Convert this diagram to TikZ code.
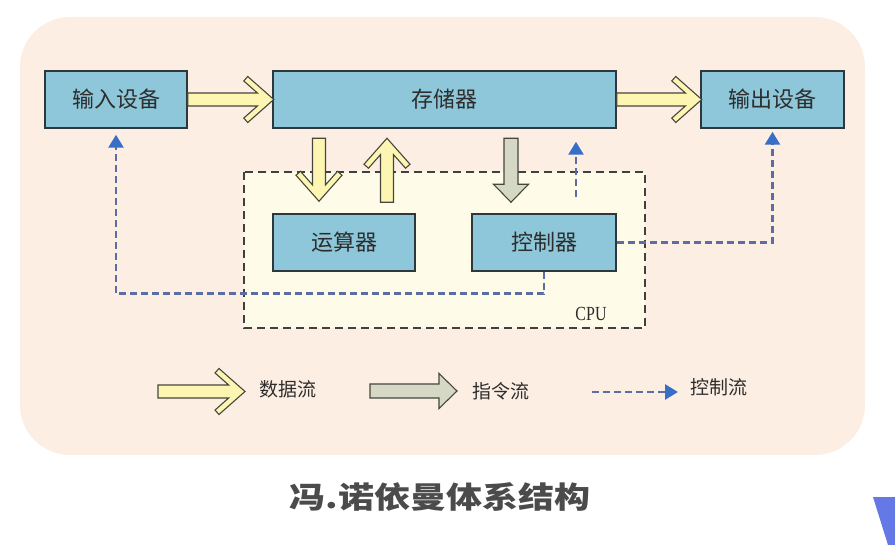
\documentclass[tikz,border=0pt]{standalone}
\usepackage{fontspec}
\setmainfont{Liberation Serif}
\newfontfamily\cjk{Noto Sans CJK SC}
\usetikzlibrary{arrows.meta,calc}
\definecolor{bgc}{RGB}{253,238,227}
\definecolor{cpufill}{RGB}{254,251,233}
\definecolor{boxfill}{RGB}{141,199,217}
\definecolor{boxline}{RGB}{45,55,60}
\definecolor{yfill}{RGB}{252,246,178}
\definecolor{gfill}{RGB}{214,216,198}
\definecolor{arrline}{RGB}{70,70,60}
\definecolor{ctlline}{RGB}{90,110,165}
\definecolor{ctltip}{RGB}{55,110,200}
\definecolor{txt}{RGB}{45,45,45}
\definecolor{titlec}{RGB}{75,75,75}
\definecolor{cornerblue}{RGB}{100,120,230}
\tikzset{
  box/.style={draw=boxline, line width=1.5pt, fill=boxfill, minimum height=57pt,
    inner sep=0pt, text=txt, font=\cjk\fontsize{22}{22}\selectfont},
  arrstroke/.style={draw=arrline, line width=1.1pt, line join=miter},
  ctl/.style={draw=ctlline, line width=2.6pt, dash pattern=on 7pt off 4pt,
    -{Triangle[length=13pt,width=15pt,color=ctltip]}},
  legtext/.style={text=txt, font=\cjk\fontsize{19}{19}\selectfont, inner sep=0pt},
  pics/yarrow/.style={code={
    \draw[arrstroke, fill=yfill] (0,6.5) -- ({#1-16.35},6.5) -- ({#1-29.96},18.54)
      -- ({#1-26},23) -- (#1,0) -- ({#1-26},-23) -- ({#1-29.96},-18.54)
      -- ({#1-16.35},-6.5) -- (0,-6.5) -- cycle;
  }},
  pics/garrow/.style={code={
    \draw[arrstroke, fill=gfill] (0,7) -- ({#1-18},7) -- ({#1-18},17.5) -- (#1,0)
      -- ({#1-18},-17.5) -- ({#1-18},-7) -- (0,-7) -- cycle;
  }},
}
\begin{document}
\begin{tikzpicture}[x=1pt,y=-1pt]
\useasboundingbox (0,0) rectangle (895,545);
% background panel
\fill[bgc, rounded corners=50pt] (20,17) rectangle (865,455);
\fill[cornerblue] (873,497) -- (895,497) -- (895,545) -- (888,545) -- cycle;
% CPU region
\draw[draw=black!75, fill=cpufill, line width=1.1pt, dash pattern=on 8pt off 5pt] (244,172) rectangle (645,328);
\node[text=txt, font=\fontsize{20}{20}\selectfont, inner sep=0pt] (cpu) at (591,314) {\scalebox{0.8}[1]{CPU}};
% boxes
\node[box, minimum width=142pt] (in) at (116,99.5) {输入设备};
\node[box, minimum width=343pt] (mem) at (444.5,99.5) {存储器};
\node[box, minimum width=143pt] (out) at (772.5,99.5) {输出设备};
\node[box, minimum width=142pt] (alu) at (344,242.5) {运算器};
\node[box, minimum width=144pt] (ctrl) at (544,242.5) {控制器};
% data flow arrows
\pic at (in.east) {yarrow=86};
\pic at (mem.east) {yarrow=85};
\pic[rotate=-90] at ($(alu.north)+(-25,-75)$) {yarrow=63};
\pic[rotate=90] at ($(alu.north)+(43,-11)$) {yarrow=64};
% instruction flow
\pic[rotate=-90] at ($(ctrl.north)+(-33,-75)$) {garrow=64};
% control flow
\draw[ctl, shorten >=6pt] (ctrl.south) -- ++(0,22) -| (in.south);
\draw[ctl, shorten >=3pt] (ctrl.east) -| (out.south);
\coordinate (cu1) at ($(ctrl.north)+(32,-16)$);
\coordinate (cu2) at ($(mem.south)+(131.5,13)$);
\draw[ctl] (cu1) -- (cu2);
% legend
\pic at (158,391.5) {yarrow=87};
\node[legtext] (l1) at (288,389) {数据流};
\pic at (370,391) {garrow=87};
\node[legtext] (l2) at (501,391) {指令流};
\coordinate (l3a) at (592,392);
\coordinate (l3b) at (678,392);
\draw[ctl] (l3a) -- (l3b);
\node[legtext] (l3) at (719,387) {控制流};
% title
\node[text=titlec, font=\cjk\bfseries\fontsize{30}{30}\selectfont, inner sep=0pt] (title) at (440,497) {\scalebox{1.2}[1]{冯.诺依曼体系结构}};
\end{tikzpicture}
\end{document}
